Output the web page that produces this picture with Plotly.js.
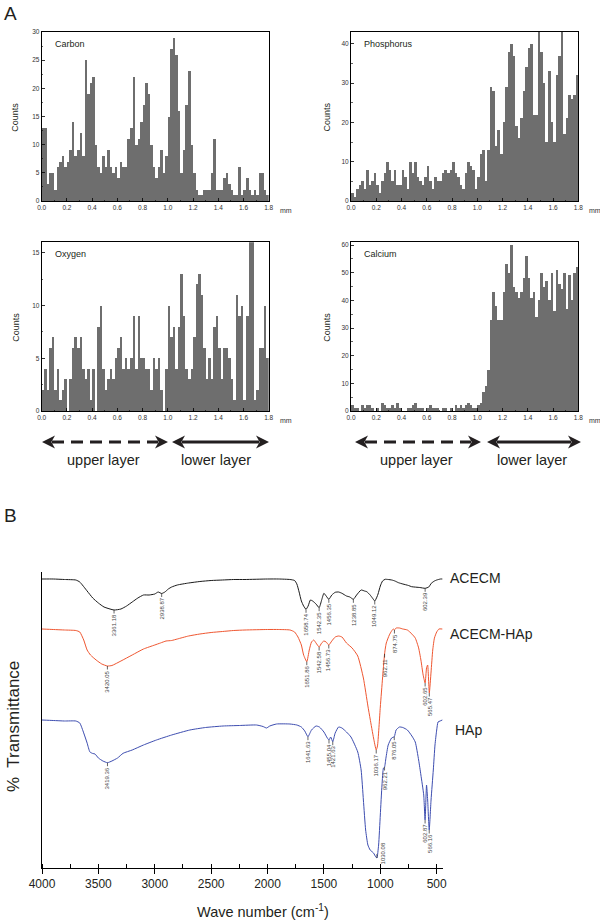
<!DOCTYPE html>
<html><head><meta charset="utf-8">
<script src="https://cdn.plot.ly/plotly-3.0.1.min.js"></script>
<style>html,body{margin:0;padding:0;background:#fff}#chart{width:600px;height:922px}</style>
</head><body><div id="chart"></div><script>
// ---------- DATA ----------
const binStartMM = [0.00,0.02,0.04,0.06,0.08,0.10,0.12,0.14,0.16,0.18,0.20,0.22,0.24,0.26,0.28,0.30,0.32,0.34,0.36,0.38,
0.40,0.42,0.44,0.46,0.48,0.50,0.52,0.54,0.56,0.58,0.60,0.62,0.64,0.66,0.68,0.70,0.72,0.74,0.76,0.78,
0.80,0.82,0.84,0.86,0.88,0.90,0.92,0.94,0.96,0.98,1.00,1.02,1.04,1.06,1.08,1.10,1.12,1.14,1.16,1.18,
1.20,1.22,1.24,1.26,1.28,1.30,1.32,1.34,1.36,1.38,1.40,1.42,1.44,1.46,1.48,1.50,1.52,1.54,1.56,1.58,
1.60,1.62,1.64,1.66,1.68,1.70,1.72,1.74,1.76,1.78];
const binWidthMM = 0.02;

const carbonCounts = [13,13,3,5,5,2,6,7,8,6, 7,9,14,8,9,12,8,25,19,21,
22,10,6,5,8,6,9,6,5,6, 4,7,6,6,11,13,22,10,11,14,
17,21,19,10,6,4,6,9,5,8, 15,27,29,26,16,5,9,17,23,10,
5,2,1,1,2,2,2,5,11,2, 2,2,4,5,3,2,1,1,6,1,
2,4,2,1,2,1,5,5,2,1];
const phosphorusCounts = [2,1,3,4,5,3,8,4,5,7, 4,2,5,7,10,8,5,8,4,4,
8,6,3,10,7,10,6,5,4,6, 9,5,3,6,5,5,7,8,7,8,
10,7,6,4,3,7,10,9,8,3, 6,12,13,5,13,29,28,14,18,12,
20,29,38,40,37,19,16,21,28,34, 39,40,22,22,43,38,30,15,33,20,
15,32,37,43,17,21,27,26,27,32];
const oxygenCounts = [2,4,2,6,7,2,4,1,2,3, 0,3,6,7,6,7,4,3,4,1,
4,0,8,10,4,2,3,4,3,5, 6,7,4,5,4,5,9,4,9,5,
5,4,4,2,5,4,5,2,0,4, 10,7,8,4,8,13,9,4,3,4,
7,12,13,11,6,3,5,3,8,9, 6,3,6,6,5,3,1,11,9,10,
1,9,16,16,1,2,6,6,10,5];
const calciumCounts = [2,1,1,0,2,1,2,2,1,0, 1,0,3,2,1,1,2,1,3,1,
0,0,1,1,2,3,1,1,1,0, 1,2,1,1,1,0,1,1,0,1,
0,2,1,2,1,2,3,2,1,1, 2,3,7,9,15,33,43,38,33,33,
43,53,50,60,45,43,41,43,48,56, 48,41,43,34,40,50,45,47,40,50,
36,51,46,44,50,37,49,40,50,52];

const elementNames = ['Carbon','Phosphorus','Oxygen','Calcium'];
const xTickMM = [0.0,0.2,0.4,0.6,0.8,1.0,1.2,1.4,1.6,1.8];

// FTIR spectra (wavenumber cm-1, transmittance arb. units)
const acecmWn = [4000,3900,3800,3700,3665,3600,3550,3500,3450,3361.18,3300,3250,3200,3150,3100,3050,3000,2970,2938.87,2910,2880,2850,2800,2700,2600,2500,2400,2300,2200,2000,1900,1800,1760,1740,1720,1700,1680,1658.74,1640,1620,1600,1570,1542.35,1520,1500,1480,1456.35,1430,1400,1370,1340,1300,1270,1238.85,1210,1170,1140,1120,1090,1070,1049.12,1030,1020,1000,980,957,930,898,870,839,800,750,722,650,602.39,570,548,520,500,466,450];
const acecmT  = [289,289,288.5,288,286,277,270,265,261,258,259,262,266,270,273,273,274,276,274.5,276,279,281,283,285,286.5,287.5,288,288.5,288.5,289,289,288.5,287.5,284,276,267,262,258.7,262,268,267,264,260.3,268,274.7,272,268.7,273,275.7,276,274.7,272,271,268.7,273,278,277,276.3,273,270,267,271,274,282,287,288.7,288.5,288,287,285.3,284,282.5,281.3,280.5,279.7,281,284.7,287,288,289,289];

const hapCompWn = [4000,3900,3800,3700,3665,3630,3600,3570,3520,3470,3420.05,3380,3300,3200,3100,3000,2950,2900,2850,2800,2700,2600,2500,2400,2300,2200,2000,1900,1800,1760,1730,1700,1680,1651.86,1630,1610,1590,1570,1542.58,1520,1500,1480,1456.73,1430,1400,1370,1340,1300,1250,1200,1150,1110,1090,1060,1036.17,1025,1000,980,970,962.11,955,947,920,900,885,874.75,860,830,800,760,720,690,660,640,620,602.65,590,580,565.47,550,535,520,500,480,450];
const hapCompT  = [239,238.5,238,237.5,236,228,218,213,208,204,202,202.5,207,213,219,223,225,227,227.5,229,232,234,235.5,236.5,237.5,238,238.5,238.5,238,236,231,223,213,206.3,218,226,228,225,221,225,227,226,223,227,231,232,231,225,220,212,190,162,149,130,118,122,161,190,204,214,220,225,233,237,239,238,240,240,239,238,234,230,220,208,193,185,200,203,175,196,218,230,236,239,239];

const hapWn = [4000,3900,3800,3700,3665,3630,3600,3575,3550,3530,3500,3460,3419.36,3380,3330,3281,3200,3100,2985,2850,2689,2550,2394,2250,2098,2040,2009,1980,1920,1802,1740,1700,1670,1641.63,1610,1570,1540,1500,1470,1455.04,1440,1421.63,1400,1370,1340,1300,1260,1200,1170,1150,1130,1110,1090,1060,1040,1030.08,1015,1000,985,972,962.21,950,930,900,876.05,860,830,800,760,720,690,660,640,615,602.87,590,580,566.16,550,530,515,500,488,470,450];
const hapT  = [148,147.5,147,147,145,135,125,116,114.5,114,110,107,105.3,107,110,114.7,118,123,128,133,138,140.5,142,142.5,143,141.5,140,142,144,144,143,141,137,131.3,138,142,141,136,130,128,131,126.3,135,141,140,136,131,116,98,68,38,23,18,15,11,10,23,53,83,100,101,110,123,130,131.3,138,141,140.5,138,132,126,108,93,73,48,83,68,38,68,98,123,138,146,147,148];

const acecmPeaks  = ['3361.18','2938.87','1658.74','1542.35','1456.35','1238.85','1049.12','602.39'];
const hapCompPeaks= ['3420.05','1651.86','1542.58','1456.73','1036.17','962.11','874.75','602.65','565.47'];
const hapPeaks    = ['3419.36','1641.63','1455.04','1421.63','1030.08','962.21','876.05','602.87','566.16'];
const seriesNames = ['ACECM','ACECM-HAp','HAp'];
const wnTicks = [4000,3500,3000,2500,2000,1500,1000,500];

// ---------- LAYOUT HELPERS ----------
const W = 600, H = 922;
const PX = v => v / W, PY = v => 1 - v / H;
const FONT = 'Liberation Sans, Arial, Helvetica, sans-serif';
const INK = '#231f20';

const panels = [
  {counts: carbonCounts,     xpx:[41.7,268.7], ypx:[32,201],    top:30, dtick:5,  minor:2.5},
  {counts: phosphorusCounts, xpx:[351,578.3],  ypx:[32,201],    top:43, dtick:10, minor:5},
  {counts: oxygenCounts,     xpx:[41.7,268.7], ypx:[242.3,411], top:16, dtick:5,  minor:2.5},
  {counts: calciumCounts,    xpx:[351,578.3],  ypx:[242.3,411], top:61, dtick:10, minor:5}
];

const data = [];
const layout = {
  width: W, height: H, margin:{l:0,r:0,t:0,b:0},
  paper_bgcolor:'#fff', plot_bgcolor:'#fff', showlegend:false,
  bargap:0, font:{family:FONT, color:INK},
  annotations:[], shapes:[]
};

panels.forEach((p,i)=>{
  const n = i+1;
  data.push({
    type:'bar', x: binStartMM.map(b=>b+binWidthMM/2), y: p.counts, width: binWidthMM,
    marker:{color:'#6e6e6e', line:{width:0}}, xaxis:'x'+n, yaxis:'y'+n, hoverinfo:'skip'
  });
  layout['xaxis'+n] = {
    domain:[PX(p.xpx[0]),PX(p.xpx[1])], anchor:'y'+n, range:[0,1.8],
    tickmode:'array', tickvals:xTickMM, ticktext:xTickMM.map(v=>v.toFixed(1)),
    ticks:'inside', ticklen:3, tickwidth:0.8, tickcolor:'#000',
    minor:{tickmode:'linear', tick0:0, dtick:0.1, ticks:'inside', ticklen:1.5, tickwidth:0.6, tickcolor:'#000'},
    showline:true, mirror:true, linecolor:'#000', linewidth:1,
    showgrid:false, zeroline:false, tickfont:{size:6.5, color:'#333'}, fixedrange:true
  };
  layout['yaxis'+n] = {
    domain:[PY(p.ypx[1]),PY(p.ypx[0])], anchor:'x'+n, range:[0,p.top],
    tickmode:'linear', tick0:0, dtick:p.dtick,
    ticks:'inside', ticklen:3, tickwidth:0.8, tickcolor:'#000',
    minor:{tickmode:'linear', tick0:0, dtick:p.minor, ticks:'inside', ticklen:1.5, tickwidth:0.6, tickcolor:'#000'},
    showline:true, mirror:true, linecolor:'#000', linewidth:1,
    showgrid:false, zeroline:false, tickfont:{size:6.5, color:'#333'}, fixedrange:true
  };
  layout.annotations.push({xref:'paper',yref:'paper',x:PX(p.xpx[0]+11),y:PY(p.ypx[0]+12),
    xanchor:'left',yanchor:'middle',showarrow:false,text:elementNames[i],font:{size:9,color:INK}});
  layout.annotations.push({xref:'paper',yref:'paper',x:PX(p.xpx[0]-(i%2?24:26.5)),y:PY((p.ypx[0]+p.ypx[1])/2+1),
    xanchor:'center',yanchor:'middle',showarrow:false,textangle:-90,text:'Counts',font:{size:9,color:INK}});
  layout.annotations.push({xref:'paper',yref:'paper',x:PX(p.xpx[1]+9),y:PY(p.ypx[1]+9.7),
    xanchor:'left',yanchor:'middle',showarrow:false,text:'mm',font:{size:7,color:'#333'}});
});

layout.annotations.push({xref:'paper',yref:'paper',x:PX(2),y:PY(14),xanchor:'left',yanchor:'middle',showarrow:false,text:'A',font:{size:19,color:INK}});
layout.annotations.push({xref:'paper',yref:'paper',x:PX(2),y:PY(515),xanchor:'left',yanchor:'middle',showarrow:false,text:'B',font:{size:19,color:INK}});

// layer arrows
const arrowY = 442, headL = 13, headH = 6.5;
function head(tx, dir){
  const b = tx - dir*headL, n = tx - dir*headL*0.72;
  return `M ${PX(tx)} ${PY(arrowY)} L ${PX(b)} ${PY(arrowY-headH)} L ${PX(n)} ${PY(arrowY)} L ${PX(b)} ${PY(arrowY+headH)} Z`;
}
const arrowSets = [
  {dash:[42,168], solid:[172,269], up:103, low:216},
  {dash:[355,481], solid:[487,581], up:417, low:532}
];
arrowSets.forEach(a=>{
  layout.shapes.push({type:'line',xref:'paper',yref:'paper',x0:PX(a.dash[0]+headL-3),x1:PX(a.dash[1]-headL+3),y0:PY(arrowY),y1:PY(arrowY),
    line:{color:INK,width:3.2,dash:'12px,7px'}});
  layout.shapes.push({type:'line',xref:'paper',yref:'paper',x0:PX(a.solid[0]+headL-3),x1:PX(a.solid[1]-headL+3),y0:PY(arrowY),y1:PY(arrowY),
    line:{color:INK,width:3.2}});
  [[a.dash[0],-1],[a.dash[1],1],[a.solid[0],-1],[a.solid[1],1]].forEach(([t,d])=>{
    layout.shapes.push({type:'path',xref:'paper',yref:'paper',path:head(t,d),fillcolor:INK,line:{width:0}});
  });
  layout.annotations.push({xref:'paper',yref:'paper',x:PX(a.up),y:PY(460),xanchor:'center',yanchor:'middle',showarrow:false,text:'upper layer',font:{size:14.5,color:INK}});
  layout.annotations.push({xref:'paper',yref:'paper',x:PX(a.low),y:PY(460),xanchor:'center',yanchor:'middle',showarrow:false,text:'lower layer',font:{size:14.5,color:INK}});
});

// ---------- PANEL B ----------
// y axis 5 spans 296 px over range 0..296, so one unit = one pixel
const specs = [
  {wn:acecmWn, t:acecmT, peaks:acecmPeaks, color:'#1a1a1a', labelPx:[448,578]},
  {wn:hapCompWn, t:hapCompT, peaks:hapCompPeaks, color:'#ef5630', labelPx:[448,634]},
  {wn:hapWn, t:hapT, peaks:hapPeaks, color:'#3d4db0', labelPx:[453,730]}
];
const sideLabels = ['1030.08'];
const LFS = 6; // peak label font size
const textLen = s => s.split('').reduce((a,c)=>a + (c==='.'?0.278:0.556), 0) * LFS;
specs.forEach((s,k)=>{
  data.push({type:'scatter',mode:'lines',x:s.wn,y:s.t,line:{color:s.color,width:1,shape:'spline',smoothing:0.5},
    xaxis:'x5',yaxis:'y5',hoverinfo:'skip'});
  s.peaks.forEach(lbl=>{
    const w = parseFloat(lbl);
    const yv = s.t[s.wn.indexOf(w)];
    const side = sideLabels.includes(lbl);
    const L = textLen(lbl);
    if (side) {
      layout.shapes.push({type:'line',xref:'x5',yref:'y5',x0:w,x1:w,y0:yv,y1:yv+4,line:{color:'#222',width:0.7}});
      layout.annotations.push({xref:'x5',yref:'y5',x:w,y:yv+5,xshift:6.5,text:lbl,textangle:-90,
        font:{size:LFS,color:'#444'},showarrow:false,xanchor:'center',yanchor:'middle'});
    } else {
      layout.shapes.push({type:'line',xref:'x5',yref:'y5',x0:w,x1:w,y0:yv,y1:yv-3.5,line:{color:'#222',width:0.7}});
      layout.annotations.push({xref:'x5',yref:'y5',x:w,y:yv-4.5-L/2,text:lbl,textangle:-90,
        font:{size:LFS,color:'#444'},showarrow:false,xanchor:'center',yanchor:'middle'});
    }
  });
  layout.annotations.push({xref:'paper',yref:'paper',x:PX(s.labelPx[0]),y:PY(s.labelPx[1]),xanchor:'left',yanchor:'middle',
    showarrow:false,text:seriesNames[k],font:{size:14,color:INK}});
});

layout.xaxis5 = {
  domain:[PX(42),PX(443)], anchor:'y5', range:[4000,444],
  tickmode:'array', tickvals:wnTicks, ticks:'outside', ticklen:5, tickwidth:1, tickcolor:'#000',
  minor:{tickmode:'linear', tick0:500, dtick:250, ticks:'inside', ticklen:4, tickwidth:1, tickcolor:'#000'},
  showline:true, linecolor:'#000', linewidth:1, showgrid:false, zeroline:false,
  tickfont:{size:12,color:INK}, fixedrange:true
};
layout.yaxis5 = {
  domain:[PY(868),PY(572)], anchor:'x5', range:[0,296],
  showline:true, linecolor:'#000', linewidth:1, showticklabels:false, ticks:'',
  showgrid:false, zeroline:false, fixedrange:true
};
layout.annotations.push({xref:'paper',yref:'paper',x:PX(13),y:PY(727),xanchor:'center',yanchor:'middle',showarrow:false,
  textangle:-90,text:'%  Transmittance',font:{size:17,color:INK}});
layout.annotations.push({xref:'paper',yref:'paper',x:PX(263),y:PY(911),xanchor:'center',yanchor:'middle',showarrow:false,
  text:'Wave number (cm<sup>-1</sup>)',font:{size:14.5,color:INK}});

Plotly.newPlot('chart', data, layout, {displayModeBar:false, staticPlot:true});
</script></body></html>
